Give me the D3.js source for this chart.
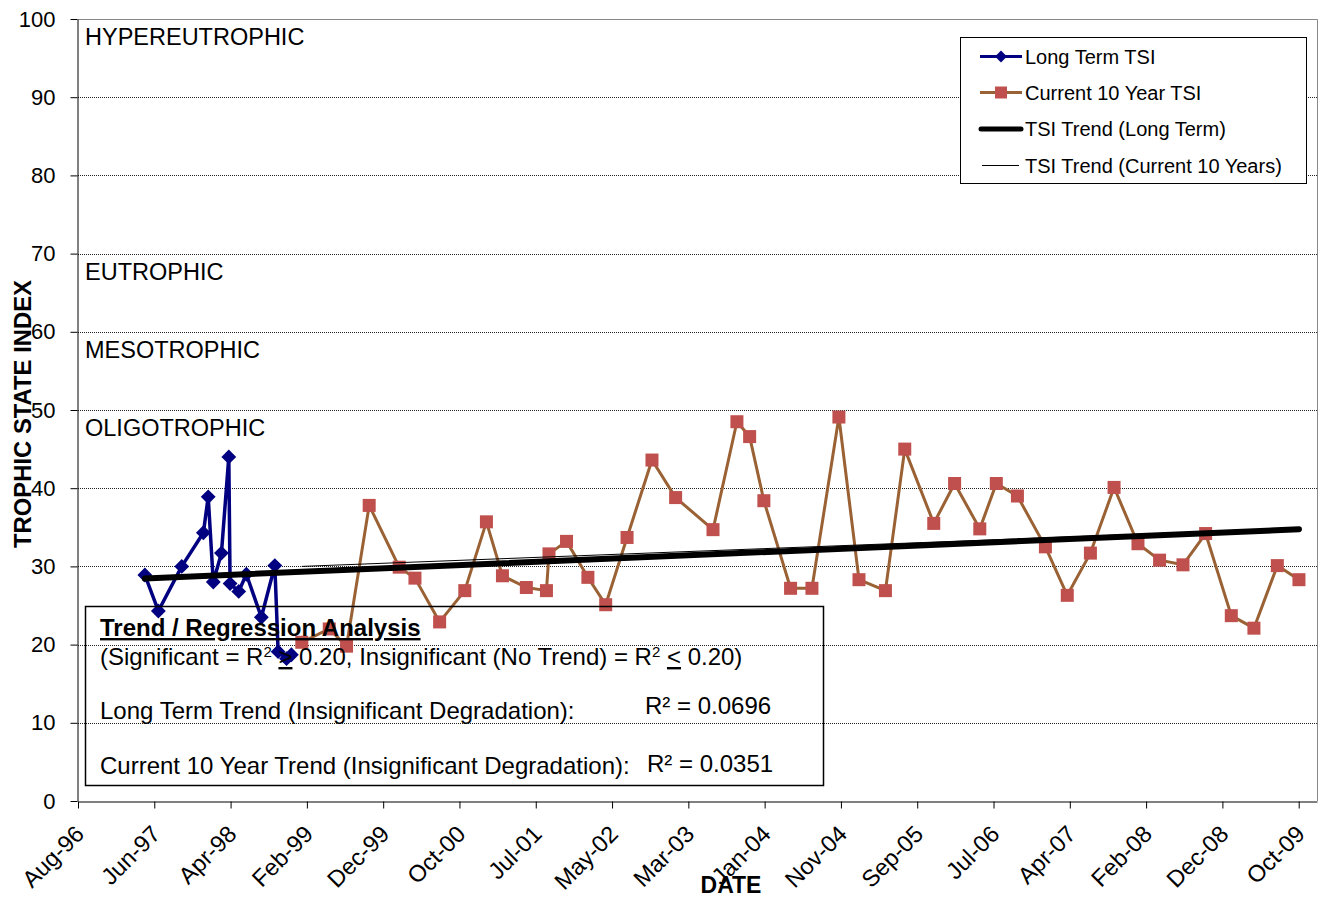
<!DOCTYPE html>
<html lang="en">

<head>
  <meta charset="UTF-8">
  <title>Trophic State Index</title>
  <style>
    body {
      margin: 0;
      background: #fff;
    }

    svg {
      display: block;
      font-family: "Liberation Sans", Arial, sans-serif;
    }

    .grid line {
      stroke: #222;
      stroke-width: 1;
      stroke-dasharray: 1, 1;
    }
  </style>
</head>

<body>
  <div class="container"></div>
  <script src="https://d3js.org/d3.v7.min.js"></script>
  <script>
    // long term series (visible part, before the current 10 years)
    const longDates = ['1997-05-13', '1997-07-05', '1997-10-05', '1997-12-29', '1998-01-17', '1998-02-06',
      '1998-03-10', '1998-04-08', '1998-04-13', '1998-05-17', '1998-06-16', '1998-08-14', '1998-10-06',
      '1998-10-19', '1998-11-21', '1998-12-10']
    const longTsi = [28.9, 24.3, 30.0, 34.3, 38.9, 28.0, 31.7, 44.0, 27.8, 26.8, 29.0, 23.5, 30.1, 19.1, 18.2, 18.7]

    // current 10 year series
    const currentDates = ['1999-01-20', '1999-05-08', '1999-07-15', '1999-10-12', '2000-02-07', '2000-04-09',
      '2000-07-15', '2000-10-22', '2001-01-15', '2001-03-19', '2001-06-21', '2001-09-08', '2001-09-18',
      '2001-11-26', '2002-02-18', '2002-04-29', '2002-07-22', '2002-10-28', '2003-01-29', '2003-06-25',
      '2003-09-27', '2003-11-16', '2004-01-11', '2004-04-25', '2004-07-18', '2004-11-01', '2005-01-19',
      '2005-05-03', '2005-07-18', '2005-11-09', '2006-01-30', '2006-05-09', '2006-07-13', '2006-10-04',
      '2007-01-22', '2007-04-18', '2007-07-18', '2007-10-19', '2008-01-21', '2008-04-15', '2008-07-16',
      '2008-10-13', '2009-01-22', '2009-04-21', '2009-07-22', '2009-10-15']
    const currentTsi = [20.3, 22.0, 19.8, 37.8, 29.9, 28.5, 22.9, 26.9, 35.7, 28.8, 27.3, 26.9, 31.6,
      33.2, 28.6, 25.1, 33.7, 43.6, 38.8, 34.7, 48.5, 46.6, 38.4, 27.2, 27.2, 49.1, 28.3,
      26.9, 45.0, 35.5, 40.6, 34.8, 40.6, 39.0, 32.5, 26.3, 31.7, 40.1, 32.9, 30.8, 30.2,
      34.2, 23.7, 22.1, 30.1, 28.3]

    // trend lines (end points)
    const longTrendDates = ['1997-05-13', '2009-10-15']
    const longTrendTsi = [28.45, 34.75]
    const currentTrendDates = ['1999-01-20', '2009-10-15']
    const currentTrendTsi = [30.0, 34.9]

    // axes
    const axisStart = '1996-08-23'
    const axisEnd = '2009-12-25'
    const xTickLabels = ['Aug-96', 'Jun-97', 'Apr-98', 'Feb-99', 'Dec-99', 'Oct-00', 'Jul-01', 'May-02', 'Mar-03',
      'Jan-04', 'Nov-04', 'Sep-05', 'Jul-06', 'Apr-07', 'Feb-08', 'Dec-08', 'Oct-09']
    const yTicks = [0, 10, 20, 30, 40, 50, 60, 70, 80, 90, 100]

    // trophic zones
    const zoneNames = ['HYPEREUTROPHIC', 'EUTROPHIC', 'MESOTROPHIC', 'OLIGOTROPHIC']
    const zoneTops = [100, 70, 60, 50]

    const W = 1322, H = 899
    const pLeft = 78, pRight = 1317, pTop = 19, pBottom = 801

    const parse = d3.timeParse('%Y-%m-%d')
    const pair = (ds, vs) => ds.map((d, i) => ({ date: parse(d), v: vs[i] }))
    const longData = pair(longDates, longTsi)
    const currentData = pair(currentDates, currentTsi)
    const longTrend = pair(longTrendDates, longTrendTsi)
    const currentTrend = pair(currentTrendDates, currentTrendTsi)

    const start = parse(axisStart)
    const xScale = d3.scaleTime()
      .domain([start, parse(axisEnd)])
      .range([pLeft, pRight])
    const yScale = d3.scaleLinear()
      .domain([0, 100])
      .range([pBottom, pTop])

    // excel style date axis: one major unit every 300 days
    const xTicks = xTickLabels.map((t, i) => d3.timeDay.offset(start, i * 300))

    const svg = d3.select('.container')
      .append('svg')
      .attr('width', W)
      .attr('height', H)

    // grid
    svg.append('g')
      .attr('class', 'grid')
      .selectAll('line')
      .data(yTicks.filter(t => t > 0 && t < 100))
      .enter()
      .append('line')
      .attr('x1', pLeft)
      .attr('x2', pRight)
      .attr('y1', d => Math.round(yScale(d)) + 0.5)
      .attr('y2', d => Math.round(yScale(d)) + 0.5)

    // plot border (top, right)
    svg.append('path')
      .attr('d', `M${pLeft},${pTop + 0.5}H${pRight + 0.5}V${pBottom}`)
      .attr('fill', 'none')
      .attr('stroke', '#888')

    // zone labels
    svg.append('g')
      .selectAll('text')
      .data(zoneNames)
      .enter()
      .append('text')
      .attr('x', 85)
      .attr('y', (d, i) => yScale(zoneTops[i]) + 26)
      .style('font-size', '23.5px')
      .text(d => d)

    // y axis
    const yAxis = d3.axisLeft(yScale)
      .tickValues(yTicks)
      .tickSize(7)
      .tickSizeOuter(0)
      .tickPadding(15)
    const gy = svg.append('g')
      .attr('transform', `translate(${pLeft - 0.5},0)`)
      .call(yAxis)
    gy.selectAll('text').style('font-size', '22px').style('font-family', '"Liberation Sans", Arial, sans-serif')

    // x axis
    const xAxis = d3.axisBottom(xScale)
      .tickValues(xTicks)
      .tickFormat((d, i) => xTickLabels[i])
      .tickSize(7)
      .tickSizeOuter(0)
    const gx = svg.append('g')
      .attr('transform', `translate(0,${pBottom + 0.5})`)
      .call(xAxis)
    gx.selectAll('text')
      .attr('x', 0)
      .attr('y', 0)
      .attr('dy', 0)
      .attr('text-anchor', 'end')
      .attr('transform', 'translate(7,34) rotate(-45)')
      .style('font-size', '23.5px')
      .style('font-family', '"Liberation Sans", Arial, sans-serif')
    svg.selectAll('.domain, .tick line').attr('stroke', '#000')

    // axis titles
    svg.append('text')
      .attr('transform', `translate(31,414) rotate(-90)`)
      .attr('text-anchor', 'middle')
      .attr('textLength', 268)
      .attr('lengthAdjust', 'spacingAndGlyphs')
      .style('font-size', '24px')
      .style('font-weight', 'bold')
      .text('TROPHIC STATE INDEX')

    svg.append('text')
      .attr('x', 731)
      .attr('y', 893)
      .attr('text-anchor', 'middle')
      .style('font-size', '23px')
      .style('font-weight', 'bold')
      .text('DATE')

    const line = d3.line()
      .x(d => xScale(d.date))
      .y(d => yScale(d.v))

    // long term TSI
    svg.append('path')
      .datum(longData)
      .attr('d', line)
      .attr('fill', 'none')
      .attr('stroke', '#000080')
      .attr('stroke-width', 3.5)
      .attr('stroke-linejoin', 'round')

    svg.append('g')
      .selectAll('path')
      .data(longData)
      .enter()
      .append('path')
      .attr('d', d3.symbol(d3.symbolSquare, 110))
      .attr('transform', d => `translate(${xScale(d.date)},${yScale(d.v)}) rotate(45)`)
      .attr('fill', '#000080')

    // current 10 year TSI
    svg.append('path')
      .datum(currentData)
      .attr('d', line)
      .attr('fill', 'none')
      .attr('stroke', '#9a6134')
      .attr('stroke-width', 3)
      .attr('stroke-linejoin', 'round')

    svg.append('g')
      .selectAll('rect')
      .data(currentData)
      .enter()
      .append('rect')
      .attr('x', d => xScale(d.date) - 6.5)
      .attr('y', d => yScale(d.v) - 6.5)
      .attr('width', 13)
      .attr('height', 13)
      .attr('fill', '#c0504d')

    // trends
    svg.append('path')
      .datum(longTrend)
      .attr('d', line)
      .attr('stroke', '#000')
      .attr('stroke-width', 6)
      .attr('stroke-linecap', 'round')

    svg.append('path')
      .datum(currentTrend)
      .attr('d', line)
      .attr('stroke', '#000')
      .attr('stroke-width', 1)

    // legend
    const lg = svg.append('g')
    lg.append('rect')
      .attr('x', 960.5)
      .attr('y', 37.5)
      .attr('width', 346)
      .attr('height', 146)
      .attr('fill', '#fff')
      .attr('stroke', '#000')

    const legendItems = ['Long Term TSI', 'Current 10 Year TSI', 'TSI Trend (Long Term)', 'TSI Trend (Current 10 Years)']
    const legendY = [56.5, 92.5, 129, 165.5]
    lg.selectAll('text')
      .data(legendItems)
      .enter()
      .append('text')
      .attr('x', 1025)
      .attr('y', (d, i) => legendY[i])
      .attr('dy', '0.36em')
      .style('font-size', '20px')
      .text(d => d)

    lg.append('line').attr('x1', 980).attr('x2', 1022).attr('y1', legendY[0]).attr('y2', legendY[0])
      .attr('stroke', '#000080').attr('stroke-width', 3)
    lg.append('path').attr('d', d3.symbol(d3.symbolSquare, 70))
      .attr('transform', `translate(1001,${legendY[0]}) rotate(45)`).attr('fill', '#000080')
    lg.append('line').attr('x1', 980).attr('x2', 1022).attr('y1', legendY[1]).attr('y2', legendY[1])
      .attr('stroke', '#9a6134').attr('stroke-width', 3)
    lg.append('rect').attr('x', 995).attr('y', legendY[1] - 6).attr('width', 12).attr('height', 12)
      .attr('fill', '#c0504d')
    lg.append('line').attr('x1', 981).attr('x2', 1021).attr('y1', legendY[2]).attr('y2', legendY[2])
      .attr('stroke', '#000').attr('stroke-width', 5).attr('stroke-linecap', 'round')
    lg.append('line').attr('x1', 982).attr('x2', 1019).attr('y1', legendY[3]).attr('y2', legendY[3])
      .attr('stroke', '#000').attr('stroke-width', 1)

    // regression note box
    const note = svg.append('g').style('font-size', '24px')
    note.append('rect')
      .attr('x', 85.5)
      .attr('y', 606.5)
      .attr('width', 738)
      .attr('height', 179)
      .attr('fill', 'none')
      .attr('stroke', '#000')
      .attr('stroke-width', 1.5)

    note.append('text')
      .attr('x', 100)
      .attr('y', 636)
      .style('font-weight', 'bold')
      .style('text-decoration', 'underline')
      .text('Trend / Regression Analysis')

    const sig = note.append('text').attr('x', 100).attr('y', 665)
    sig.append('tspan').text('(Significant = R')
    sig.append('tspan').attr('dy', -8).style('font-size', '15px').text('2')
    sig.append('tspan').attr('dy', 8).text(' ')
    sig.append('tspan').style('text-decoration', 'underline').text('>')
    sig.append('tspan').text(' 0.20, Insignificant (No Trend) = R')
    sig.append('tspan').attr('dy', -8).style('font-size', '15px').text('2')
    sig.append('tspan').attr('dy', 8).text(' ')
    sig.append('tspan').style('text-decoration', 'underline').text('<')
    sig.append('tspan').text(' 0.20)')

    note.append('text').attr('x', 100).attr('y', 719)
      .text('Long Term Trend (Insignificant Degradation):')
    note.append('text').attr('x', 645).attr('y', 714)
      .text('R\u00b2 = 0.0696')
    note.append('text').attr('x', 100).attr('y', 774)
      .text('Current 10 Year Trend (Insignificant Degradation):')
    note.append('text').attr('x', 647).attr('y', 772)
      .text('R\u00b2 = 0.0351')
  </script>
</body>

</html>
